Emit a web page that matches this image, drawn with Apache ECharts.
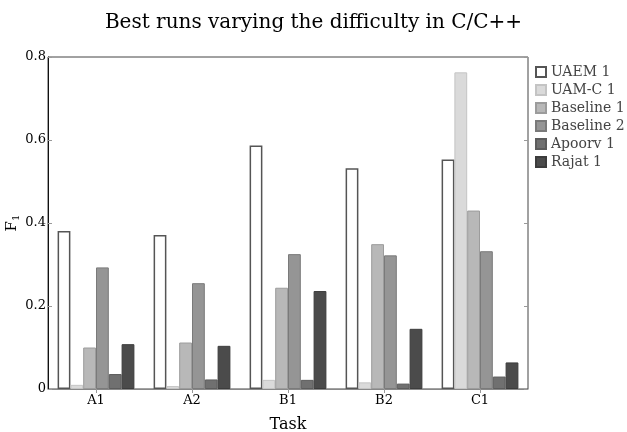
<!DOCTYPE html>
<html>
<head>
<meta charset="utf-8">
<script src="https://cdn.jsdelivr.net/npm/echarts@6/dist/echarts.min.js"></script>
<style>
  html, body { margin: 0; padding: 0; background: #fff; }
  #main { width: 627px; height: 432px; }
</style>
</head>
<body>
<div id="main"></div>
<script>
// tasks on the x axis
const tasks = ['A1', 'A2', 'B1', 'B2', 'C1'];
const yTicks = [0, 0.2, 0.4, 0.6, 0.8];

// F1 per run
const uaem1 = [0.381, 0.371, 0.587, 0.532, 0.553];
const uamc1 = [0.010, 0.007, 0.022, 0.016, 0.763];
const baseline1 = [0.100, 0.112, 0.244, 0.349, 0.430];
const baseline2 = [0.293, 0.255, 0.325, 0.322, 0.332];
const apoorv1 = [0.036, 0.023, 0.022, 0.013, 0.030];
const rajat1 = [0.108, 0.104, 0.236, 0.145, 0.064];

const serif = 'DejaVu Serif';

const runs = [
    { name: 'UAEM 1', data: uaem1, fill: '#ffffff', edge: '#555555', bw: 1.5 },
    { name: 'UAM-C 1', data: uamc1, fill: '#dadada', edge: '#c4c4c4', bw: 1 },
    { name: 'Baseline 1', data: baseline1, fill: '#b8b8b8', edge: '#9c9c9c', bw: 1 },
    { name: 'Baseline 2', data: baseline2, fill: '#959595', edge: '#7a7a7a', bw: 1 },
    { name: 'Apoorv 1', data: apoorv1, fill: '#707070', edge: '#5c5c5c', bw: 1 },
    { name: 'Rajat 1', data: rajat1, fill: '#4b4b4b', edge: '#3c3c3c', bw: 1 }
];

const chart = echarts.init(document.getElementById('main'));

chart.setOption({
    animation: false,
    title: {
        text: 'Best runs varying the difficulty in C/C++',
        left: 'center',
        top: 8,
        textStyle: { fontFamily: serif, fontSize: 20, fontWeight: 'normal', color: '#000' }
    },
    legend: {
        orient: 'vertical',
        left: 531,
        top: 62,
        itemWidth: 10,
        itemHeight: 10,
        itemGap: 2,
        padding: [2, 4, 4, 4],
        backgroundColor: '#fff',
        icon: 'rect',
        textStyle: { fontFamily: serif, fontSize: 14, color: '#444', lineHeight: 16 },
        data: runs.map(r => r.name)
    },
    grid: {
        left: 48, right: 99, top: 57, bottom: 43,
        outerBoundsMode: 'none',
        containLabel: false,
        show: true,
        borderColor: '#444',
        borderWidth: 1,
        backgroundColor: 'transparent'
    },
    xAxis: [
        {
            type: 'category',
            data: tasks,
            name: 'Task',
            nameLocation: 'middle',
            nameGap: 28,
            nameMoveOverlap: false,
            nameTextStyle: { fontFamily: serif, fontSize: 16, color: '#000' },
            axisLine: { lineStyle: { color: '#888', width: 1 } },
            axisTick: { show: false },
            axisLabel: { fontFamily: serif, fontSize: 13, color: '#000', margin: 5 }
        },
        {
            type: 'category',
            data: tasks,
            position: 'top',
            axisLine: { show: false },
            axisTick: { show: true, inside: true, alignWithLabel: true, length: 4, lineStyle: { color: '#999' } },
            axisLabel: { show: false }
        }
    ],
    yAxis: [
        {
            type: 'value',
            min: 0,
            max: 0.8,
            interval: 0.2,
            name: '{f|F}{s|1}',
            nameLocation: 'middle',
            nameGap: 27,
            nameMoveOverlap: false,
            nameRotate: 90,
            nameTextStyle: {
                color: '#000',
                rich: {
                    f: { fontFamily: serif, fontSize: 15, color: '#000' },
                    s: { fontFamily: serif, fontSize: 10, color: '#000', padding: [7, 0, 0, 0] }
                }
            },
            axisLine: { show: true, lineStyle: { color: '#111', width: 1 } },
            axisTick: { show: true, inside: true, length: 4, lineStyle: { color: '#999' } },
            splitLine: { show: false },
            axisLabel: {
                fontFamily: serif, fontSize: 13, color: '#000', margin: 2,
                formatter: v => (v === 0 ? '0' : v.toFixed(1))
            }
        },
        {
            type: 'value',
            min: 0,
            max: 0.8,
            interval: 0.2,
            position: 'right',
            axisLine: { show: false },
            axisTick: { show: true, inside: true, length: 4, lineStyle: { color: '#999' } },
            splitLine: { show: false },
            axisLabel: { show: false }
        }
    ],
    series: runs.map(r => ({
        name: r.name,
        type: 'bar',
        data: r.data,
        barGap: '0%',
        barCategoryGap: '20%',
        itemStyle: { color: r.fill, borderColor: r.edge, borderWidth: r.bw }
    }))
});
</script>
</body>
</html>
